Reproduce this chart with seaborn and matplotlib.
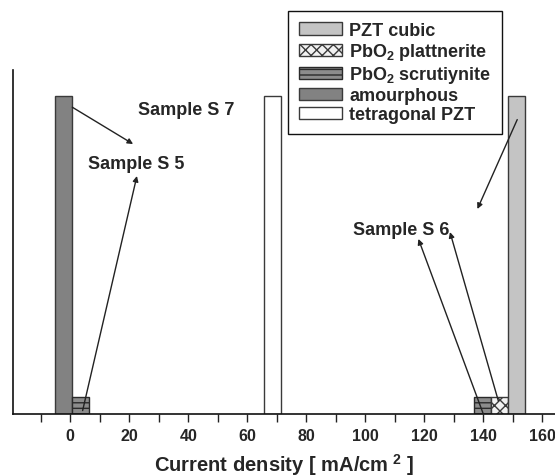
import matplotlib
matplotlib.use("Agg")
import matplotlib.pyplot as plt
from matplotlib.patches import Patch
import seaborn as sns
import pandas as pd

# ---- data ----
phases = ["amourphous", "PbO2 scrutiynite", "tetragonal PZT",
          "PbO2 scrutiynite", "PbO2 plattnerite", "PZT cubic"]
current_density = [-2.4, 3.35, 68.6, 139.7, 145.45, 151.2]
fraction = [92.5, 5.0, 92.5, 5.0, 5.0, 92.5]
legend_order = ["PZT cubic", "PbO2 plattnerite", "PbO2 scrutiynite",
                "amourphous", "tetragonal PZT"]
legend_labels = ["PZT cubic", r"PbO$_2$ plattnerite", r"PbO$_2$ scrutiynite",
                 "amourphous", "tetragonal PZT"]
xticks = [0, 20, 40, 60, 80, 100, 120, 140, 160]
samples = ["Sample S 7", "Sample S 5", "Sample S 6"]

df = pd.DataFrame({"x": current_density, "y": fraction, "phase": phases})

styles = {
    "PZT cubic": dict(facecolor="#c4c4c4", edgecolor="#3a3a3a", hatch=""),
    "PbO2 plattnerite": dict(facecolor="#f2f2f2", edgecolor="#3a3a3a", hatch="xxx"),
    "PbO2 scrutiynite": dict(facecolor="#8c8c8c", edgecolor="#2a2a2a", hatch="---"),
    "amourphous": dict(facecolor="#828282", edgecolor="#3a3a3a", hatch=""),
    "tetragonal PZT": dict(facecolor="#ffffff", edgecolor="#3a3a3a", hatch=""),
}

sns.set_theme(style="white")
plt.rcParams["font.family"] = ["Liberation Sans", "DejaVu Sans"]
plt.rcParams["font.weight"] = "bold"
plt.rcParams["mathtext.fontset"] = "custom"
plt.rcParams["mathtext.bf"] = "Liberation Sans:bold"
plt.rcParams["mathtext.rm"] = "Liberation Sans:bold"
plt.rcParams["mathtext.default"] = "bf"
plt.rcParams["hatch.linewidth"] = 1.0

fig = plt.figure(figsize=(5.55, 4.77), dpi=100)
ax = fig.add_axes([0.0229, 0.130, 0.9771, 0.721])

hue_levels = ["amourphous", "PbO2 scrutiynite", "tetragonal PZT",
              "PbO2 plattnerite", "PZT cubic"]
sns.barplot(data=df, x="x", y="y", hue="phase", hue_order=hue_levels,
            native_scale=True, dodge=False, width=1.0, legend=False,
            errorbar=None, ax=ax, linewidth=1.0)

for level, cont in zip(hue_levels, ax.containers):
    st = styles[level]
    for p in cont.patches:
        p.set_facecolor(st["facecolor"])
        p.set_edgecolor(st["edgecolor"])
        p.set_hatch(st["hatch"])
        p.set_linewidth(1.0)

ax.set_xlim(-19.5, 164.3)
ax.set_ylim(0, 100)
ax.set_xticks(xticks)
ax.set_xticklabels([str(t) for t in xticks], fontsize=11.5, fontweight="bold")
ax.set_xticks(range(-10, 165, 20), minor=True)
ax.tick_params(axis="x", which="both", direction="out", bottom=True,
               length=6, width=1.0, color="#222222", pad=4)
ax.set_yticks([])
ax.set_ylabel("")
ax.set_xlabel(r"Current density [ mA/cm$^{\ 2}$ ]", fontsize=14.5,
              fontweight="bold", labelpad=6)
for s in ["top", "right"]:
    ax.spines[s].set_visible(False)
for s in ["left", "bottom"]:
    ax.spines[s].set_color("#111111")
    ax.spines[s].set_linewidth(1.2)

# sample annotations
ax.text(22.9, 87.2, samples[0], fontsize=13, fontweight="bold", va="baseline")
ax.text(6.0, 71.5, samples[1], fontsize=13, fontweight="bold", va="baseline")
ax.text(95.9, 52.3, samples[2], fontsize=13, fontweight="bold", va="baseline")

arrows = [((0.7, 89.2), (21.3, 78.5)),
          ((4.2, 1.0), (22.6, 69.2)),
          ((151.5, 85.6), (138.0, 59.6)),
          ((140.0, 0.0), (118.0, 50.9)),
          ((145.1, 3.8), (128.7, 52.9))]
for tail, head in arrows:
    ax.annotate("", xy=head, xytext=tail,
                arrowprops=dict(arrowstyle="-|>", color="#222222", lw=1.0,
                                mutation_scale=8, shrinkA=0, shrinkB=0))

handles = [Patch(facecolor=styles[k]["facecolor"], edgecolor=styles[k]["edgecolor"],
                 hatch=styles[k]["hatch"], linewidth=1.0) for k in legend_order]
leg = fig.legend(handles, legend_labels, loc="upper left",
                 bbox_to_anchor=(288 / 555, 1 - 12 / 477), bbox_transform=fig.transFigure,
                 prop=dict(size=13, weight="bold"), frameon=True, fancybox=False,
                 edgecolor="#111111", framealpha=1, handlelength=2.4,
                 handleheight=0.67, handletextpad=0.4, labelspacing=0.12,
                 borderpad=0.6, borderaxespad=0)
leg.get_frame().set_linewidth(1.0)

fig.savefig("out.png", dpi=100)
